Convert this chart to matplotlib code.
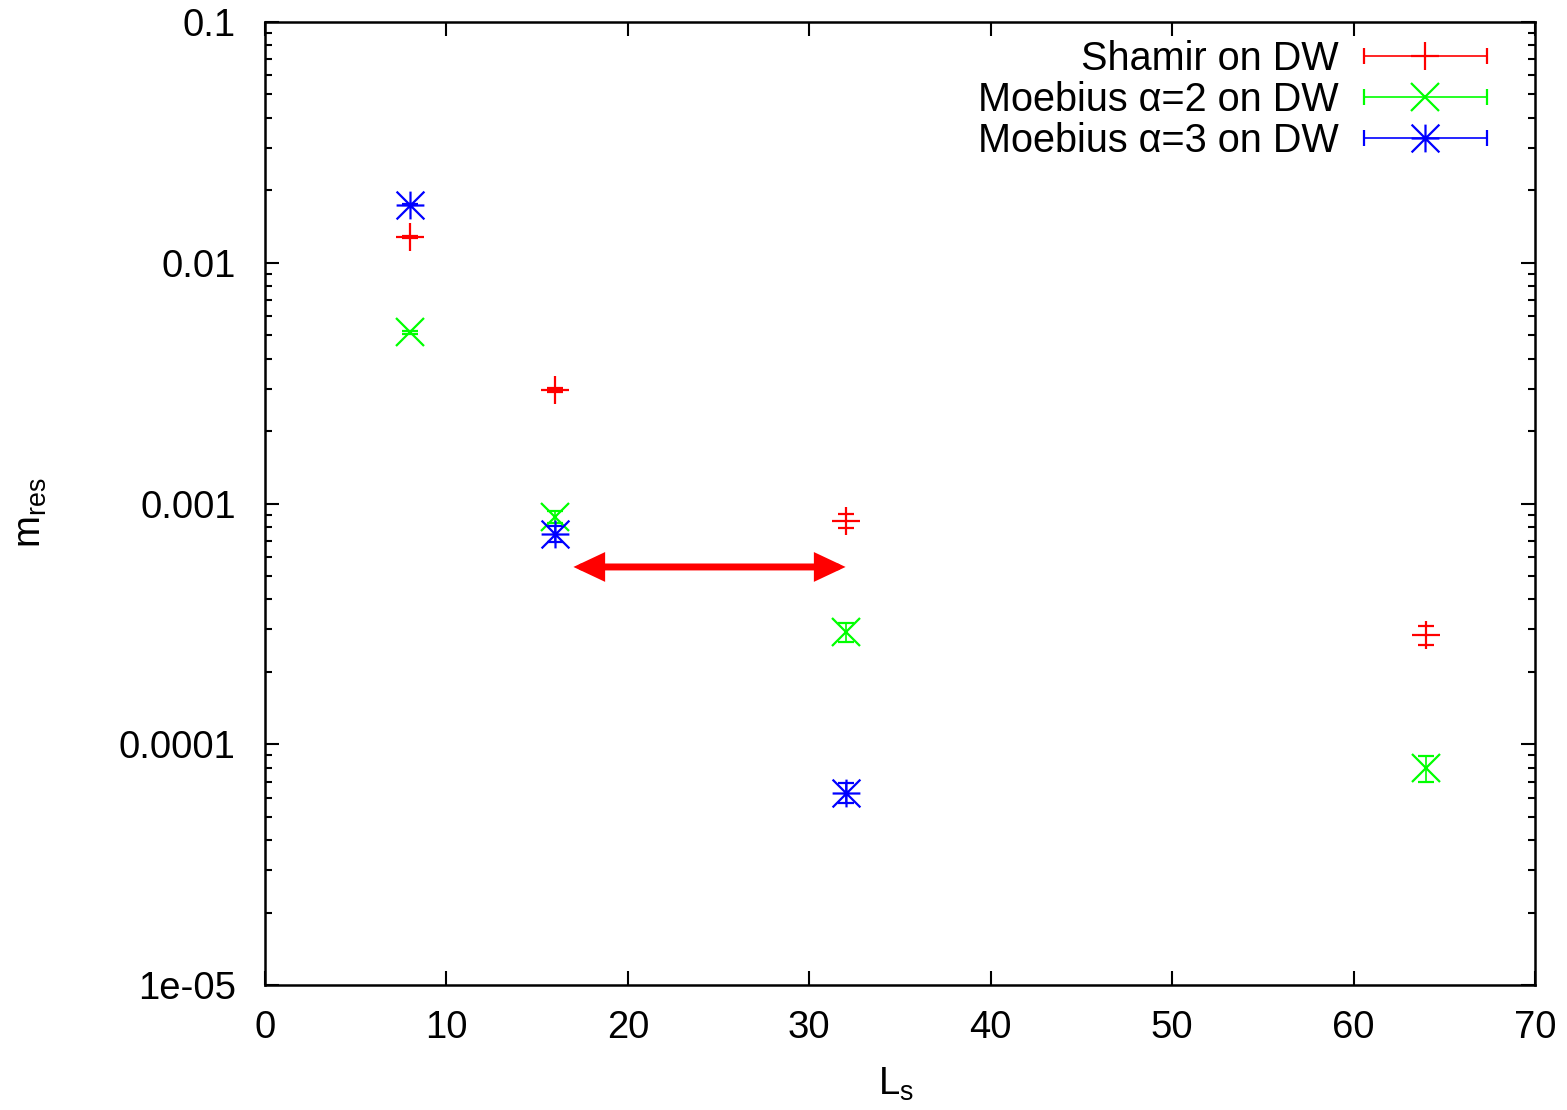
import numpy as np
import matplotlib
matplotlib.use("Agg")
import matplotlib.pyplot as plt
from matplotlib.path import Path
from matplotlib.container import ErrorbarContainer
from matplotlib.legend_handler import HandlerErrorbar

plt.rcParams["font.family"] = ["Liberation Sans", "DejaVu Sans"]
plt.rcParams["mathtext.fontset"] = "custom"
plt.rcParams["mathtext.rm"] = "Liberation Sans"

# residual mass vs L_s
ls_shamir = [8, 16, 32, 64]
mres_shamir = [0.0128, 0.00296, 0.000845, 0.000285]
err_shamir = [0.00015, 0.00006, 0.000056, 0.000026]

ls_moeb2 = [8, 16, 32, 64]
mres_moeb2 = [0.00515, 0.00088, 0.000292, 0.0000794]
err_moeb2 = [0.00007, 0.00005, 0.000027, 0.00001]

ls_moeb3 = [8, 16, 32]
mres_moeb3 = [0.0174, 0.00075, 0.000063]
err_moeb3 = [0.0001, 0.00006, 0.000006]

labels = ["Shamir on DW", "Moebius \u03b1=2 on DW", "Moebius \u03b1=3 on DW"]
colors = ["#ff0000", "#00ff00", "#0000ff"]

arrow_from = (32, 0.000545)
arrow_to = (17, 0.000545)

yticks = [1e-5, 1e-4, 1e-3, 1e-2, 1e-1]
ytick_labels = ["1e-05", "0.0001", "0.001", "0.01", "0.1"]

FS = 27.5
FS_KEY = 28.5

# gnuplot pt 3: "+" and "x" drawn on top of each other
star = Path([(-1, 0), (1, 0), (0, -1), (0, 1), (-1, -1), (1, 1), (-1, 1), (1, -1)],
            [Path.MOVETO, Path.LINETO] * 4)
markers = ["+", "x", star]

fig = plt.figure(figsize=(15.67, 11.1), dpi=100)
ax = fig.add_axes([265 / 1567, 1 - 985 / 1110, (1535 - 265) / 1567, (985 - 22) / 1110])

style = dict(linestyle="none", ms=20, mew=1.6, mfc="none",
             elinewidth=1.2, capsize=5.8, capthick=1.2)

series = [(ls_shamir, mres_shamir, err_shamir),
          (ls_moeb2, mres_moeb2, err_moeb2),
          (ls_moeb3, mres_moeb3, err_moeb3)]
handles = []
for (x, y, e), m, c, lab in zip(series, markers, colors, labels):
    ax.errorbar(x, y, yerr=e, marker=m, color=c, mec=c, **style)
    # proxy with horizontal bar, like the gnuplot key
    h = ax.errorbar([np.nan], [np.nan], xerr=[1], marker=m, color=c, mec=c,
                    label=lab, **style)
    handles.append(h)

ax.annotate("", xy=arrow_to, xytext=arrow_from,
            arrowprops=dict(arrowstyle="<|-|>,head_length=0.85,head_width=0.4",
                            color="red", lw=5, shrinkA=0, shrinkB=0,
                            mutation_scale=17, joinstyle="miter"))

ax.set_yscale("log")
ax.set_xlim(0, 70)
ax.set_ylim(1e-5, 0.1)
ax.set_xticks(range(0, 71, 10))
ax.set_yticks(yticks, ytick_labels)
ax.yaxis.set_minor_locator(matplotlib.ticker.LogLocator(base=10, subs=np.arange(2, 10)))
ax.yaxis.set_minor_formatter(matplotlib.ticker.NullFormatter())
ax.xaxis.set_minor_locator(matplotlib.ticker.NullLocator())

ax.tick_params(which="both", direction="in", top=True, right=True,
               width=1.5, labelsize=FS, colors="black")
ax.tick_params(axis="y", which="major", length=10, pad=21)
ax.tick_params(axis="x", which="major", length=10, pad=18)
ax.tick_params(which="minor", length=5)
for sp in ax.spines.values():
    sp.set_linewidth(1.8)

ax.set_xlabel("$\\mathregular{L_s}$", fontsize=FS)
ax.set_ylabel("$\\mathregular{m_{res}}$", fontsize=FS)
ax.xaxis.set_label_coords(0.497, -0.084)
ax.yaxis.set_label_coords(-0.170, 0.49)

ax.legend(handles=handles, labels=labels,
          handler_map={ErrorbarContainer: HandlerErrorbar(xerr_size=1.56)},
          loc="upper right", bbox_to_anchor=(1487 / 1567, 1 - 40 / 1110),
          bbox_transform=fig.transFigure, frameon=False, markerfirst=False,
          fontsize=FS_KEY, handlelength=3.12, handletextpad=0.62,
          labelspacing=0.08, borderpad=0, borderaxespad=0, numpoints=1)

fig.savefig("out.png", dpi=100)
